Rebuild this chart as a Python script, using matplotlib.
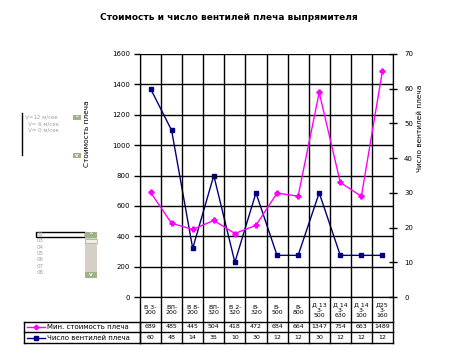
import numpy as np
import matplotlib.pyplot as plt
from matplotlib.patches import Rectangle
import matplotlib.transforms as mtransforms

plt.rcParams['font.family'] = ['DejaVu Sans']

categories = ["В 3-\n200", "ВЛ-\n200", "В 8-\n200", "ВЛ-\n320", "В 2-\n320", "В-\n320",
              "В-\n500", "В-\n800", "Д 13\n3-\n500", "Д 14\n3-\n630", "Д 14\n3-\n100", "Д25\n3-\n160"]
cost = [689, 485, 445, 504, 418, 472, 684, 664, 1347, 754, 663, 1489]
valves = [60, 48, 14, 35, 10, 30, 12, 12, 30, 12, 12, 12]
cost_label = "Мин. стоимость плеча"
valves_label = "Число вентилей плеча"
speed_items = ["V=12 м/сек", "V= 6 м/сек", "V= 0 м/сек"]
list_items = ["02", "03", "04", "05", "06", "07", "08"]

W, H = 460, 351
fig = plt.figure(figsize=(W / 100, H / 100), dpi=100)
fig.patch.set_facecolor('white')


def fx(px):
    return px / W


def fy(py):
    return 1 - py / H


x0, x1, ytop, ybot = 140, 393, 54, 297
ax = fig.add_axes([fx(x0), fy(ybot), fx(x1 - x0), (ybot - ytop) / H])
ax2 = ax.twinx()

n = len(categories)
x = np.arange(n)
ax.set_xlim(-0.5, n - 0.5)
ax.set_ylim(0, 1600)
ax2.set_ylim(0, 70)
ax.set_yticks(np.arange(0, 1601, 200))
ax2.set_yticks(np.arange(0, 71, 10))
ax.set_xticks([])
ax.yaxis.grid(True, color='black', lw=1)
ax.set_axisbelow(True)
for k in range(n + 1):
    ax.axvline(k - 0.5, color='black', lw=1, zorder=1)

ax.spines['top'].set_visible(False)
ax2.spines['top'].set_visible(False)
ax.tick_params(axis='y', direction='out', length=4, width=1, labelsize=5, pad=3)
ax2.tick_params(axis='y', direction='inout', length=6, width=1, labelsize=5, pad=5)

ax2.plot(x, valves, color='#000080', lw=1, marker='s', ms=3.5, zorder=3)
ax.plot(x, cost, color='#FF00FF', lw=1, marker='P', ms=3.5, zorder=3)
ax.set_zorder(2)
ax2.set_zorder(1)
ax.patch.set_visible(False)

# data table below the plot
trans = mtransforms.blended_transform_factory(ax.transData, ax.transAxes)


def ya(py):
    return (ybot - py) / (ybot - ytop)


row_lines = [322, 332, 343]
for k in range(n + 1):
    ax.plot([k - 0.5, k - 0.5], [0, ya(343)], color='black', lw=1, transform=trans, clip_on=False)
for py in row_lines:
    fig.add_artist(plt.Line2D([fx(24), fx(x1)], [fy(py), fy(py)], color='black', lw=1))
fig.add_artist(plt.Line2D([fx(24), fx(24)], [fy(322), fy(343)], color='black', lw=1))
fig.add_artist(plt.Line2D([fx(x0), fx(x0)], [fy(322), fy(343)], color='black', lw=1))

for i in range(n):
    ax.text(x[i], ya(310), categories[i], transform=trans, ha='center', va='center',
            fontsize=4.5, linespacing=1.2)
    ax.text(x[i], ya(327), str(cost[i]), transform=trans, ha='center', va='center', fontsize=4.5)
    ax.text(x[i], ya(337.5), str(valves[i]), transform=trans, ha='center', va='center', fontsize=4.5)

fig.add_artist(plt.Line2D([fx(27), fx(36), fx(45)], [fy(327)] * 3, color='#FF00FF', lw=1,
                          marker='P', ms=3, markevery=[1]))
fig.add_artist(plt.Line2D([fx(27), fx(36), fx(45)], [fy(337.5)] * 3, color='#000080', lw=1,
                          marker='s', ms=2.5, markevery=[1]))
fig.text(fx(47), fy(327), cost_label, fontsize=5, va='center', ha='left')
fig.text(fx(47), fy(337.5), valves_label, fontsize=5, va='center', ha='left')

# titles and axis labels
fig.text(fx(229), fy(17), "Стоимость и число вентилей плеча выпрямителя", fontsize=6.5,
         fontweight='bold', ha='center', va='center')
fig.text(fx(87), fy(134), "Стоимость плеча", fontsize=5.3, rotation=90, ha='center', va='center')
fig.text(fx(420), fy(128), "Число вентилей плеча", fontsize=5.3, rotation=90, ha='center', va='center')

# form controls on the left
gray = '#A0A0A0'
green = '#9DB48A'
fig.add_artist(plt.Line2D([fx(22), fx(22)], [fy(113), fy(155)], color='black', lw=1))
for i, s in enumerate(speed_items):
    fig.text(fx(25) if i == 0 else fx(28), fy(117 + 6.5 * i), s, fontsize=4, color=gray,
             va='center', ha='left')
for py, up in [(115, True), (153, False)]:
    fig.add_artist(Rectangle((fx(73), fy(py + 5)), fx(8), 5 / H, facecolor=green, edgecolor='none'))
    fig.text(fx(77), fy(py + 2.5), '^' if up else 'v', fontsize=4, color='white', ha='center',
             va='center', fontweight='bold')

fig.add_artist(Rectangle((fx(36), fy(237)), fx(49), 5 / H, facecolor='none', edgecolor='black', lw=1))
for i, s in enumerate(list_items):
    fig.text(fx(37), fy(234.5 + 6.3 * i), s, fontsize=4, color=gray, va='center', ha='left')
fig.add_artist(Rectangle((fx(85), fy(278)), fx(12), 46 / H, facecolor='#D4D0C8', edgecolor='none'))
fig.add_artist(Rectangle((fx(85), fy(243)), fx(12), 4 / H, facecolor='#EFEDE8', edgecolor='#B0A890', lw=0.5))
for py, up in [(232, True), (272, False)]:
    fig.add_artist(Rectangle((fx(85), fy(py + 6)), fx(12), 6 / H, facecolor=green, edgecolor='none'))
    fig.text(fx(91), fy(py + 3), '^' if up else 'v', fontsize=4, color='white', ha='center',
             va='center', fontweight='bold')

fig.savefig('out.png', dpi=100)
